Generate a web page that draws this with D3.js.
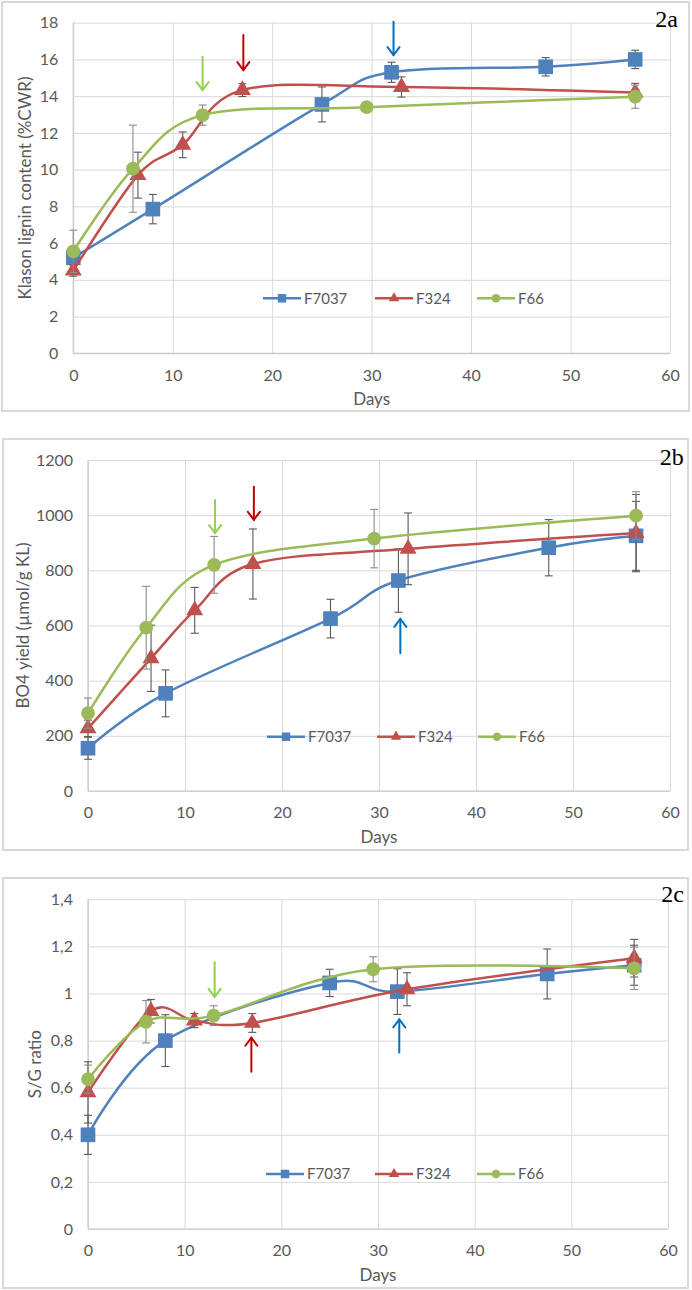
<!DOCTYPE html>
<html>
<head>
<meta charset="utf-8">
<script src="https://cdn.jsdelivr.net/npm/d3@7"></script>
<style>
  html, body { margin: 0; padding: 0; background: #ffffff; }
  svg { display: block; }
</style>
</head>
<body>
<script>
// ---------------- DATA ----------------
const seriesNames = ["F7037", "F324", "F66"];
const xTicks = [0, 10, 20, 30, 40, 50, 60];

// sampling days per series
const days7037 = [0, 8, 25, 32, 47.5, 56.5];
const days324  = [0, 6.5, 11, 17, 33, 56.5];
const days66   = [0, 6, 13, 29.5, 56.5];

// 2a Klason lignin content (%CWR)
const klason7037 = [5.2, 7.85, 13.55, 15.3, 15.6, 16.0];
const klasonErr7037 = [0.3, 0.8, 0.95, 0.55, 0.5, 0.5];
const klason324 = [4.5, 9.7, 11.35, 14.33, 14.5, 14.2];
const klasonErr324 = [0.3, 1.25, 0.7, 0.35, 0.55, 0.5];
const klason66 = [5.55, 10.05, 12.97, 13.4, 13.97];
const klasonErr66 = [1.15, 2.37, 0.55, 0.12, 0.63];
const yTicks2a = [0, 2, 4, 6, 8, 10, 12, 14, 16, 18];

// 2b BO4 yield (umol/g KL)
const bo47037 = [155, 354, 625, 763, 882, 925];
const bo4Err7037 = [40, 85, 70, 115, 102, 125];
const bo4324 = [227, 481, 655, 823, 878, 935];
const bo4Err324 = [30, 120, 83, 127, 130, 140];
const bo466 = [282, 592, 820, 915, 998];
const bo4Err66 = [55, 150, 103, 106, 87];
const yTicks2b = [0, 200, 400, 600, 800, 1000, 1200];

// 2c S/G ratio
const sg7037 = [0.40, 0.80, 1.045, 1.008, 1.083, 1.12];
const sgErr7037 = [0.083, 0.11, 0.058, 0.097, 0.106, 0.085];
const sg324 = [0.58, 0.925, 0.885, 0.875, 1.018, 1.15];
const sgErr324 = [0.13, 0.05, 0.03, 0.04, 0.07, 0.08];
const sg66 = [0.636, 0.88, 0.906, 1.103, 1.107];
const sgErr66 = [0.06, 0.09, 0.042, 0.053, 0.09];
const yTicks2c = [0, 0.2, 0.4, 0.6, 0.8, 1.0, 1.2, 1.4];

// arrow annotations (day, from-value, to-value[tip])
const arrowDays2a = [13, 17.1, 32.2];
const arrowFrom2a = [16.15, 17.33, 18.05];
const arrowTo2a   = [14.33, 15.42, 16.24];
const arrowDays2b = [13.1, 17.1, 32.2];
const arrowFrom2b = [1055, 1103, 499];
const arrowTo2b   = [935, 983, 624];
const arrowDays2c = [13.1, 16.9, 32.2];
const arrowFrom2c = [1.133, 0.668, 0.749];
const arrowTo2c   = [0.986, 0.812, 0.89];

// ---------------- STYLE ----------------
const colors = { F7037: "#4F81BD", F324: "#C0504D", F66: "#9BBB59" };
const arrowColors = ["#92D050", "#C00000", "#0070C0"];
const errColors = { F7037: "#595959", F324: "#595959", F66: "#8c8c8c" };
const markerType = { F7037: d3.symbolSquare, F324: d3.symbolTriangle, F66: d3.symbolCircle };
const markerSize = { F7037: 215, F324: 125, F66: 150 };
const legendMarkerSize = { F7037: 72, F324: 48, F66: 58 };
const textColor = "#595959";
const gridColor = "#D9D9D9";
const axisColor = "#C8C8C8";
const font = "Lato, 'Open Sans', sans-serif";

const svg = d3.select("body").append("svg")
  .attr("width", 692).attr("height", 1290)
  .style("font-family", font);

function drawPanel(cfg) {
  const g = svg.append("g");
  // frame
  g.append("rect")
    .attr("x", cfg.frame[0]).attr("y", cfg.frame[1])
    .attr("width", cfg.frame[2]).attr("height", cfg.frame[3])
    .attr("fill", "#fff").attr("stroke", gridColor).attr("stroke-width", 2);

  const x = d3.scaleLinear().domain([0, 60]).range([cfg.left, cfg.right]);
  const y = d3.scaleLinear().domain(cfg.yDomain).range([cfg.bottom, cfg.top]);

  // y grid + labels
  const ya = g.append("g").attr("transform", `translate(${cfg.left},0)`)
    .call(d3.axisLeft(y).tickValues(cfg.yTicks).tickSize(-(cfg.right - cfg.left))
      .tickPadding(15).tickFormat(cfg.fmt));
  ya.select(".domain").remove();
  ya.selectAll("line").attr("stroke", gridColor).attr("stroke-width", 1);
  ya.selectAll("text").attr("fill", textColor).style("font-size", "16px").style("font-family", font);

  // x grid + labels
  const xa = g.append("g").attr("transform", `translate(0,${cfg.bottom})`)
    .call(d3.axisBottom(x).tickValues(xTicks).tickSize(-(cfg.bottom - cfg.top))
      .tickPadding(16).tickFormat(d3.format("d")));
  xa.select(".domain").remove();
  xa.selectAll("line").attr("stroke", gridColor).attr("stroke-width", 1);
  xa.selectAll("text").attr("fill", textColor).style("font-size", "16px").style("font-family", font);

  // axis lines
  g.append("line").attr("x1", cfg.left).attr("x2", cfg.left)
    .attr("y1", cfg.top).attr("y2", cfg.bottom).attr("stroke", axisColor).attr("stroke-width", 1.2);
  g.append("line").attr("x1", cfg.left).attr("x2", cfg.right)
    .attr("y1", cfg.bottom).attr("y2", cfg.bottom).attr("stroke", axisColor).attr("stroke-width", 1.2);

  // titles
  g.append("text").attr("transform", `translate(${cfg.yTitleX},${(cfg.top + cfg.bottom) / 2}) rotate(-90)`)
    .attr("text-anchor", "middle").attr("dy", "0.35em")
    .attr("fill", textColor).style("font-size", "17px").text(cfg.yTitle);
  g.append("text").attr("x", (cfg.left + cfg.right) / 2).attr("y", cfg.bottom + 52)
    .attr("text-anchor", "middle").attr("fill", textColor).style("font-size", "17px").text("Days");

  // series
  const line = d3.line().x(d => x(d.d)).y(d => y(d.v)).curve(d3.curveCardinal.tension(0));
  cfg.series.forEach(s => {
    const pts = s.days.map((d, i) => ({ d: d, v: s.vals[i], e: s.errs[i] }));
    const c = colors[s.name];
    // error bars
    const eb = g.append("g").attr("stroke", errColors[s.name]).attr("stroke-width", 1.1);
    pts.forEach(p => {
      const xx = x(p.d);
      eb.append("line").attr("x1", xx).attr("x2", xx).attr("y1", y(p.v - p.e)).attr("y2", y(p.v + p.e));
      eb.append("line").attr("x1", xx - 4).attr("x2", xx + 4).attr("y1", y(p.v - p.e)).attr("y2", y(p.v - p.e));
      eb.append("line").attr("x1", xx - 4).attr("x2", xx + 4).attr("y1", y(p.v + p.e)).attr("y2", y(p.v + p.e));
    });
    g.append("path").datum(pts).attr("d", line)
      .attr("fill", "none").attr("stroke", c).attr("stroke-width", 2.5);
    g.append("g").selectAll("path").data(pts).join("path")
      .attr("transform", p => `translate(${x(p.d)},${y(p.v)})`)
      .attr("d", d3.symbol().type(markerType[s.name]).size(markerSize[s.name]))
      .attr("fill", c);
  });

  // arrows
  cfg.arrows.days.forEach((d, i) => {
    const xx = x(d), y1 = y(cfg.arrows.from[i]), y2 = y(cfg.arrows.to[i]);
    const dir = y2 > y1 ? 1 : -1;
    const ag = g.append("g").attr("stroke", arrowColors[i]).attr("stroke-width", 2)
      .attr("fill", "none").attr("stroke-linecap", "round");
    ag.append("line").attr("x1", xx).attr("x2", xx).attr("y1", y1).attr("y2", y2);
    ag.append("path").attr("d", `M${xx - 6},${y2 - dir * 8}L${xx},${y2}L${xx + 6},${y2 - dir * 8}`);
  });

  // legend
  const lg = g.append("g");
  seriesNames.forEach((n, i) => {
    const x0 = cfg.legendX[i], ly = cfg.legendY;
    lg.append("line").attr("x1", x0).attr("x2", x0 + 38).attr("y1", ly).attr("y2", ly)
      .attr("stroke", colors[n]).attr("stroke-width", 2.5);
    lg.append("path").attr("transform", `translate(${x0 + 19},${ly})`)
      .attr("d", d3.symbol().type(markerType[n]).size(legendMarkerSize[n])).attr("fill", colors[n]);
    lg.append("text").attr("x", x0 + 41).attr("y", ly).attr("dy", "0.35em")
      .attr("fill", textColor).style("font-size", "15px").text(n);
  });

  // panel label
  g.append("text").attr("x", cfg.labelPos[0]).attr("y", cfg.labelPos[1])
    .attr("text-anchor", "middle").style("font-family", "'Liberation Serif', 'Times New Roman', serif")
    .style("font-size", "24px").attr("fill", "#000").text(cfg.label);
}

const commaFmt = d => (+d.toFixed(1)).toString().replace(".", ",");

drawPanel({
  frame: [2, 2, 687, 409], left: 73.3, right: 670, top: 22.7, bottom: 353.3,
  yDomain: [0, 18], yTicks: yTicks2a, fmt: d3.format("d"),
  yTitle: "Klason lignin content (%CWR)", yTitleX: 25,
  series: [
    { name: "F7037", days: days7037, vals: klason7037, errs: klasonErr7037 },
    { name: "F324", days: days324, vals: klason324, errs: klasonErr324 },
    { name: "F66", days: days66, vals: klason66, errs: klasonErr66 }
  ],
  arrows: { days: arrowDays2a, from: arrowFrom2a, to: arrowTo2a },
  legendX: [263, 375, 477], legendY: 298.3,
  label: "2a", labelPos: [666.5, 27]
});

drawPanel({
  frame: [3, 439, 685, 411], left: 88, right: 670, top: 460, bottom: 791,
  yDomain: [0, 1200], yTicks: yTicks2b, fmt: d3.format("d"),
  yTitle: "BO4 yield (µmol/g KL)", yTitleX: 23,
  series: [
    { name: "F7037", days: days7037, vals: bo47037, errs: bo4Err7037 },
    { name: "F324", days: days324, vals: bo4324, errs: bo4Err324 },
    { name: "F66", days: days66, vals: bo466, errs: bo4Err66 }
  ],
  arrows: { days: arrowDays2b, from: arrowFrom2b, to: arrowTo2b },
  legendX: [267, 377, 478], legendY: 736.7,
  label: "2b", labelPos: [671.7, 465]
});

drawPanel({
  frame: [3, 878, 685, 410], left: 88, right: 668, top: 899.3, bottom: 1229,
  yDomain: [0, 1.4], yTicks: yTicks2c, fmt: commaFmt,
  yTitle: "S/G ratio", yTitleX: 35,
  series: [
    { name: "F7037", days: days7037, vals: sg7037, errs: sgErr7037 },
    { name: "F324", days: days324, vals: sg324, errs: sgErr324 },
    { name: "F66", days: days66, vals: sg66, errs: sgErr66 }
  ],
  arrows: { days: arrowDays2c, from: arrowFrom2c, to: arrowTo2c },
  legendX: [266, 375, 477], legendY: 1174,
  label: "2c", labelPos: [672.5, 901.7]
});
</script>
</body>
</html>
